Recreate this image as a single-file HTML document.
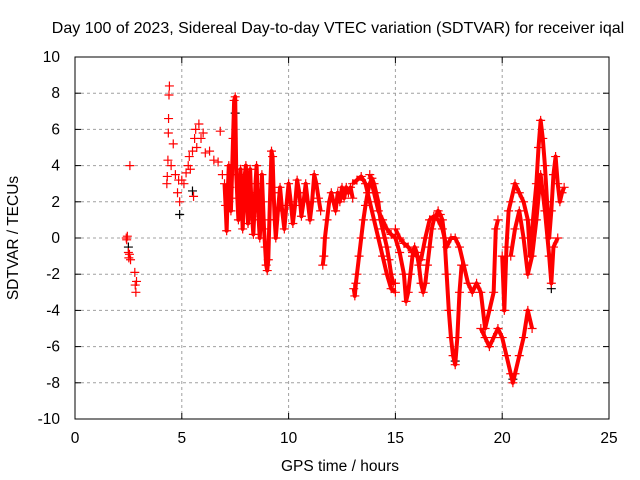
<!DOCTYPE html>
<html><head><meta charset="utf-8"><style>
body{margin:0;background:#fff;}
svg{display:block;font-family:"Liberation Sans",sans-serif;}
</style></head><body>
<svg id="chart" width="640" height="480">
<rect width="640" height="480" fill="#fff"/>
<text x="338" y="33" font-size="16" text-anchor="middle">Day 100 of 2023, Sidereal Day-to-day VTEC variation (SDTVAR) for receiver iqal</text>
<text x="340" y="471" font-size="15.5" text-anchor="middle">GPS time / hours</text>
<text transform="translate(18,238) rotate(-90)" font-size="15.5" text-anchor="middle">SDTVAR / TECUs</text>
<g id="grid"></g><g id="ticks"></g><g id="marks"></g>
<rect x="75" y="57" width="534" height="362" fill="none" stroke="#000" stroke-width="1"/>
</svg>
<script>
const xTicks=[0,5,10,15,20,25];
const yTicks=[-10,-8,-6,-4,-2,0,2,4,6,8,10];
const traceA_t=[2.40,2.42,2.45,2.5,2.52,2.55,2.6,2.57,2.8,2.82,2.85,2.88,4.3,4.32,4.35,4.37,4.38,4.4,4.42,4.5,4.6,4.7,4.8,4.85,4.9,5.0,5.1,5.2,5.3,5.35,5.4,5.5,5.55,5.6,5.65,5.7,5.8,5.9,6.0,6.1,6.3,6.5,6.7,6.8,6.9];
const traceA_v=[0,-0.1,0.1,-0.8,-1.1,-0.9,-1.2,4.0,-1.9,-2.6,-3.0,-2.4,3.0,3.4,4.3,5.8,6.6,7.9,8.4,4.0,5.2,3.5,2.5,3.2,2.0,3.2,3.0,3.6,4.0,4.5,3.8,4.8,2.3,5.5,6.0,5.0,6.3,5.5,5.8,4.7,4.8,4.3,4.2,5.9,3.5];
const traceB_t=[7.0,7.05,7.1,7.15,7.2,7.25,7.3,7.35,7.4,7.45,7.5,7.55,7.6,7.65,7.7,7.75,7.8,7.85,7.9,7.95,8.0,8.05,8.1,8.15,8.2,8.25,8.3,8.35,8.4,8.45,8.5,8.55,8.6,8.65,8.7,8.75,8.8,8.85,8.9,8.95,9.0,9.05,9.1,9.15,9.2,9.25,9.3,9.35,9.4,9.5,9.6,9.7,9.8,9.9,10.0,10.1,10.2,10.3,10.4,10.5,10.6,10.7,10.8,10.9,11.0,11.1,11.2,11.3,11.4,11.5];
const traceB_v=[3.0,1.8,0.4,2.5,4.0,2.8,1.5,3.5,5.5,7.6,7.8,3.5,2.2,1.0,2.8,3.8,2.0,0.5,1.8,3.5,4.0,2.0,0.8,2.5,3.8,2.2,1.0,0.2,1.5,3.0,4.0,2.5,1.0,0.0,1.2,3.5,2.0,0.5,-0.5,-1.5,-1.8,-1.2,1.0,3.0,4.8,4.5,2.5,1.0,0.0,1.5,2.8,1.5,0.5,1.8,3.0,2.0,0.8,1.8,3.2,2.5,1.2,2.0,3.0,2.0,1.0,2.0,3.5,3.0,2.2,1.5];
const traceC_t=[11.6,11.65,11.7,11.8,11.9,12.0,12.1,12.2,12.3,12.4,12.5,12.6,12.7,12.8,12.9,13.0];
const traceC_v=[-1.5,-1.0,0.0,1.0,2.0,2.5,2.0,1.5,2.5,2.0,2.8,2.2,2.8,2.5,2.8,2.2];
const traceD_t=[13.05,13.1,13.15,13.2,13.3,13.4,13.5,13.6,13.7,13.8,13.9,14.0,14.1,14.2,14.3,14.4,14.5,14.6,14.7,14.8,14.9,15.0];
const traceD_v=[-2.8,-3.2,-2.5,-2.0,-1.0,0.0,1.0,1.8,2.5,3.0,3.3,3.0,2.5,2.0,1.0,0.5,0.0,-0.5,-1.2,-2.0,-2.5,-2.5];
const traceE_t=[13.0,13.2,13.4,13.6,13.8,14.0,14.2,14.4,14.6,14.8,15.0];
const traceE_v=[3.0,3.2,3.4,3.0,2.0,1.0,0.0,-1.0,-2.0,-2.8,-3.0];
const traceF_t=[13.8,14.0,14.2,14.4,14.6,14.8,15.0,15.2,15.4,15.5,15.6,15.7,15.8,15.9,16.0,16.1,16.2,16.3,16.4,16.5,16.6,16.7,16.8,16.9,17.0,17.1,17.2,17.3,17.4,17.5,17.6,17.7,17.8,17.9,18.0,18.1];
const traceF_v=[3.5,2.5,1.5,1.0,0.5,0.2,0.0,-0.8,-2.0,-3.5,-3.0,-2.0,-1.0,-0.5,-0.8,-1.5,-2.5,-3.0,-2.5,-1.5,-0.5,0.5,1.0,1.2,1.5,1.3,1.0,0.0,-2.0,-4.0,-5.5,-6.5,-7.0,-5.5,-3.0,-1.5];
const traceG_t=[15.0,15.2,15.4,15.6,15.8,16.0,16.2,16.4,16.6,16.8,17.0,17.2,17.4,17.6,17.8,18.0,18.2,18.4,18.6,18.8,19.0,19.2,19.4,19.6,19.7,19.8];
const traceG_v=[0.5,0.0,-0.3,-0.5,-0.8,-1.0,-1.2,0.0,1.0,1.2,1.0,0.5,-0.5,0.0,0.0,-0.5,-1.5,-2.5,-3.0,-2.5,-3.0,-5.0,-4.0,-3.0,0.5,1.0];
const traceH_t=[19.0,19.2,19.4,19.6,19.8,20.0,20.2,20.4,20.5,20.6,20.8,21.0,21.2,21.4];
const traceH_v=[-5.0,-5.5,-6.0,-5.5,-5.0,-5.5,-6.5,-7.5,-8.0,-7.5,-6.5,-5.5,-4.0,-5.0];
const traceI_t=[20.0,20.1,20.2,20.3,20.4,20.6,20.8,21.0,21.2,21.3,21.4,21.6,21.7,21.8,21.9,22.0,22.1,22.2,22.3,22.4,22.5,22.6,22.7,22.8,22.9];
const traceI_v=[-1.0,-4.0,-0.5,1.5,2.0,3.0,2.5,2.0,1.0,-1.0,0.5,3.0,5.0,6.5,5.5,4.0,2.0,0.0,1.5,3.5,4.5,3.0,2.0,2.5,2.8];
const traceJ_t=[20.4,20.6,20.8,21.0,21.2,21.4,21.6,21.8,22.0,22.2,22.3,22.4,22.6];
const traceJ_v=[-1.0,0.5,1.5,0.0,-2.0,-1.0,1.0,3.5,1.5,-1.0,-2.5,-0.5,0.0];
const blackT=[4.9,5.5,7.5,17.8,20.5,22.3,2.5];
const blackV=[1.3,2.6,6.9,-6.8,-7.8,-2.8,-0.5];

const X0=75,X1=609,Y0=419,Y1=57;
const xs=t=>X0+(t-0)/(25-0)*(X1-X0);
const ys=v=>Y0-(v+10)/20*(Y0-Y1);
const NS='http://www.w3.org/2000/svg';
const grid=document.getElementById('grid'),ticks=document.getElementById('ticks'),marks=document.getElementById('marks');
function mk(tag,attrs,parent){const e=document.createElementNS(NS,tag);for(const k in attrs)e.setAttribute(k,attrs[k]);parent.appendChild(e);return e;}
xTicks.forEach(t=>{const x=xs(t);
 if(t>0&&t<25){const g=mk('line',{x1:x,x2:x,y1:Y1,y2:Y0,stroke:'#a0a0a0','stroke-dasharray':'3,3'},grid);
 
 }
 mk('line',{x1:x,x2:x,y1:Y0,y2:Y0-6,stroke:'#000'},ticks);mk('line',{x1:x,x2:x,y1:Y1,y2:Y1+6,stroke:'#000'},ticks);
 const l=mk('text',{x:x,y:Y0+24,'font-size':15.5,'text-anchor':'middle'},ticks);l.textContent=t;
 
 });
yTicks.forEach(v=>{const y=ys(v);
 if(v>-10&&v<10){const g=mk('line',{x1:X0,x2:X1,y1:y,y2:y,stroke:'#a0a0a0','stroke-dasharray':'3,3'},grid);
 
 }
 mk('line',{x1:X0,x2:X0+6,y1:y,y2:y,stroke:'#000'},ticks);mk('line',{x1:X1,x2:X1-6,y1:y,y2:y,stroke:'#000'},ticks);
 const l=mk('text',{x:X0-15,y:y+5,'font-size':15.5,'text-anchor':'end'},ticks);l.textContent=v;
 
 });
function plus(t,v,col,name){const x=xs(t),y=ys(v);
 const p=mk('path',{d:`M${x-4.5},${y}H${x+4.5}M${x},${y-4.5}V${y+4.5}`,stroke:col,'stroke-width':1.2,fill:'none'},marks);
 
 }
blackT.forEach((t,i)=>plus(t,blackV[i],'#000','black-point'));
const traces=[[traceA_t,traceA_v,false],[traceB_t,traceB_v,true],[traceC_t,traceC_v,true],[traceD_t,traceD_v,true],[traceE_t,traceE_v,true],[traceF_t,traceF_v,true],[traceG_t,traceG_v,true],[traceH_t,traceH_v,true],[traceI_t,traceI_v,true],[traceJ_t,traceJ_v,true]];
traces.forEach(([T,V,dense])=>{
 if(dense){const pl=mk('polyline',{points:T.map((t,i)=>xs(t)+','+ys(V[i])).join(' '),stroke:'#f00','stroke-width':4,fill:'none','stroke-linejoin':'round'},marks);
 
 }
 T.forEach((t,i)=>plus(t,V[i],'#f00','sdtvar-point'));
});
</script>
</body></html>
